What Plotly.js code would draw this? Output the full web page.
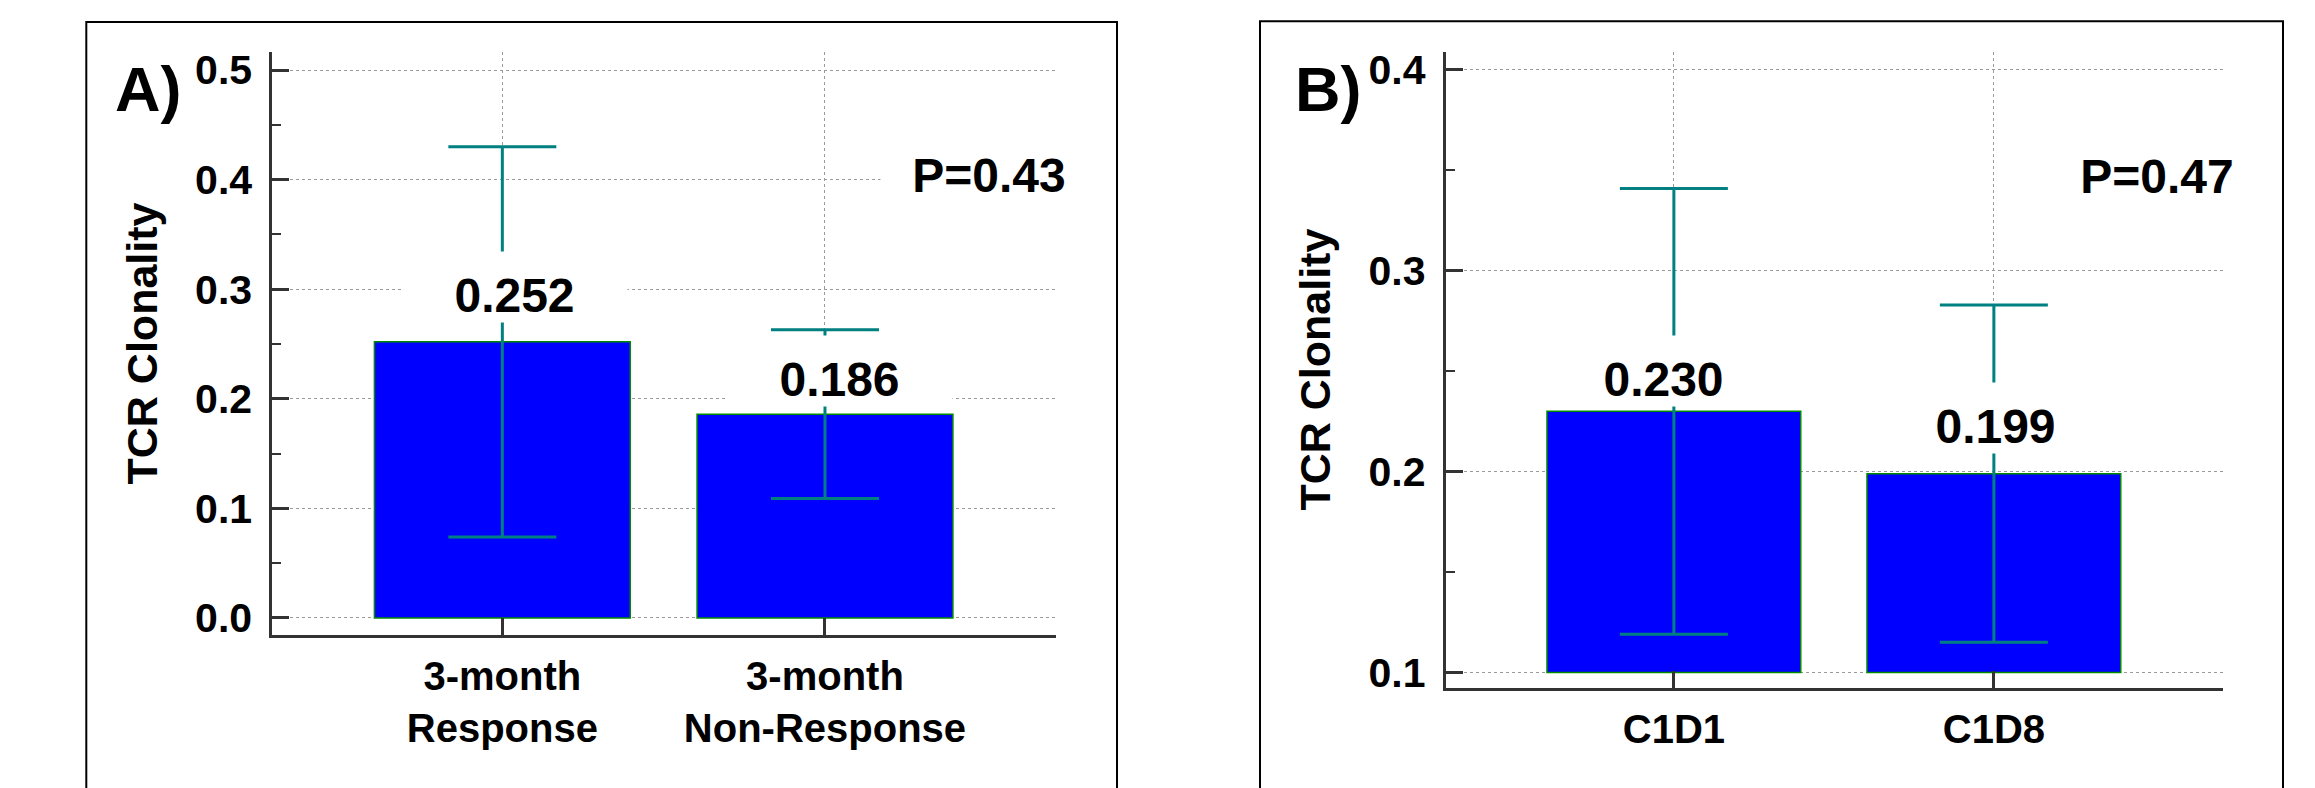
<!DOCTYPE html>
<html>
<head>
<meta charset="utf-8">
<script src="https://cdn.plot.ly/plotly-3.0.1.min.js"></script>
<style>
  html, body { margin: 0; padding: 0; background: #ffffff; }
  #chart { width: 2315px; height: 788px; }
</style>
</head>
<body>
<div id="chart"></div>
<script>
// ---------------- data ----------------
const catsA = ['3-month<br>Response', '3-month<br>Non-Response'];
const meanA = [0.252, 0.186];
const errA = [0.178, 0.077];
const pTextA = 'P=0.43';
const panelA = 'A)';

const catsB = ['C1D1', 'C1D8'];
const meanB = [0.230, 0.199];
const errB = [0.111, 0.084];
const pTextB = 'P=0.47';
const panelB = 'B)';
const baseB = 0.1;

const yTitle = 'TCR Clonality';

// ---------------- style ----------------
const W = 2315, H = 788;
const FONT = 'Liberation Sans, Arial, Helvetica, sans-serif';
const AXC = '#333333';
const ERRC = '#008080';
const BARC = '#0000ff';
const BARLINE = '#008a00';
const GRIDC = '#9a9a9a';
// label nudges (px): [dx, dy above bar top]
const nudgeA = [[12, 19], [15, 7]];
const nudgeB = [[-10, 4], [2, 20]];

function px2x(p) { return p / W; }
function py2y(p) { return 1 - p / H; }

function xAxis(domain, anchor) {
  return {
    domain: domain, anchor: anchor, type: 'category',
    range: [-0.713, 1.716], fixedrange: true,
    showline: true, linecolor: AXC, linewidth: 3,
    ticks: 'inside', ticklen: 17, tickwidth: 3, tickcolor: AXC,
    showgrid: true, gridcolor: GRIDC, gridwidth: 1, griddash: 'dot',
    zeroline: false,
    tickfont: { family: FONT, size: 40, color: '#000', weight: 'bold' },
    ticklabelstandoff: 4,
    automargin: false
  };
}
function yAxis(domain, anchor, range) {
  return {
    domain: domain, anchor: anchor, range: range, fixedrange: true,
    tick0: 0, dtick: 0.1, tickformat: '.1f',
    showline: true, linecolor: AXC, linewidth: 3,
    ticks: 'inside', ticklen: 17, tickwidth: 3, tickcolor: AXC,
    minor: { ticks: 'inside', ticklen: 9, tickwidth: 2, tickcolor: AXC, tick0: 0, dtick: 0.05, showgrid: false },
    showgrid: true, gridcolor: GRIDC, gridwidth: 1, griddash: 'dot',
    zeroline: false,
    tickfont: { family: FONT, size: 41, color: '#000', weight: 'bold' },
    ticklabelstandoff: 9,
    title: { text: yTitle, font: { family: FONT, size: 43, color: '#000', weight: 'bold' }, standoff: 25 },
    automargin: false
  };
}

const traceA = {
  type: 'bar', x: catsA, y: meanA, xaxis: 'x', yaxis: 'y',
  marker: { color: BARC, line: { color: BARLINE, width: 1.5 } },
  error_y: { type: 'data', array: errA, visible: true, color: ERRC, thickness: 3, width: 54 },
  hoverinfo: 'none', showlegend: false
};
const traceB = {
  type: 'bar', x: catsB, y: meanB.map(v => v - baseB), base: baseB, xaxis: 'x2', yaxis: 'y2',
  marker: { color: BARC, line: { color: BARLINE, width: 1.5 } },
  error_y: { type: 'data', array: errB, visible: true, color: ERRC, thickness: 3, width: 54 },
  hoverinfo: 'none', showlegend: false
};

function valueLabels(cats, vals, xr, yr, nudge) {
  return cats.map((c, i) => ({
    x: c, y: vals[i], xref: xr, yref: yr,
    text: vals[i].toFixed(3), showarrow: false,
    xanchor: 'center', yanchor: 'bottom',
    xshift: nudge[i][0], yshift: nudge[i][1],
    width: 225, height: 70, valign: 'bottom', borderpad: 0,
    bgcolor: '#ffffff',
    font: { family: FONT, size: 48, color: '#000', weight: 'bold' }
  }));
}
function pLabel(text, xr, yr, yv) {
  return {
    x: 0.915, y: yv, xref: xr + ' domain', yref: yr + ' domain',
    text: text, showarrow: false, xanchor: 'center', yanchor: 'middle',
    width: 216, height: 70, valign: 'bottom', borderpad: 0,
    bgcolor: '#ffffff',
    font: { family: FONT, size: 48, color: '#000', weight: 'bold' }
  };
}
function panelLetter(text, xpx) {
  return {
    x: px2x(xpx), y: py2y(52), xref: 'paper', yref: 'paper',
    text: text, showarrow: false, xanchor: 'left', yanchor: 'top',
    font: { family: FONT, size: 63, color: '#000', weight: 'bold' }
  };
}

const layout = {
  width: W, height: H,
  margin: { l: 0, r: 0, t: 0, b: 0, pad: 0 },
  paper_bgcolor: '#ffffff', plot_bgcolor: 'rgba(0,0,0,0)',
  showlegend: false, bargap: 0.207,
  xaxis: xAxis([px2x(272.3), px2x(1056)], 'y'),
  yaxis: yAxis([py2y(635.3), py2y(51.7)], 'x', [-0.0158, 0.5167]),
  xaxis2: xAxis([px2x(1445.7), px2x(2223)], 'y2'),
  yaxis2: yAxis([py2y(687.5), py2y(51.7)], 'x2', [0.0925, 0.4091]),
  annotations: [].concat(
    valueLabels(catsA, meanA, 'x', 'y', nudgeA),
    valueLabels(catsB, meanB, 'x2', 'y2', nudgeB),
    [pLabel(pTextA, 'x', 'y', 0.803), pLabel(pTextB, 'x2', 'y2', 0.8176),
     panelLetter(panelA, 113), panelLetter(panelB, 1292.7)]
  ),
  shapes: [
    { type: 'rect', xref: 'paper', yref: 'paper', x0: px2x(86.3), x1: px2x(1117), y0: -0.05, y1: py2y(22),
      line: { color: '#000', width: 2 }, fillcolor: 'rgba(0,0,0,0)', layer: 'above' },
    { type: 'rect', xref: 'paper', yref: 'paper', x0: px2x(1260), x1: px2x(2283), y0: -0.05, y1: py2y(21.3),
      line: { color: '#000', width: 2 }, fillcolor: 'rgba(0,0,0,0)', layer: 'above' }
  ]
};

Plotly.newPlot('chart', [traceA, traceB], layout, { staticPlot: true, displayModeBar: false });
</script>
</body>
</html>
